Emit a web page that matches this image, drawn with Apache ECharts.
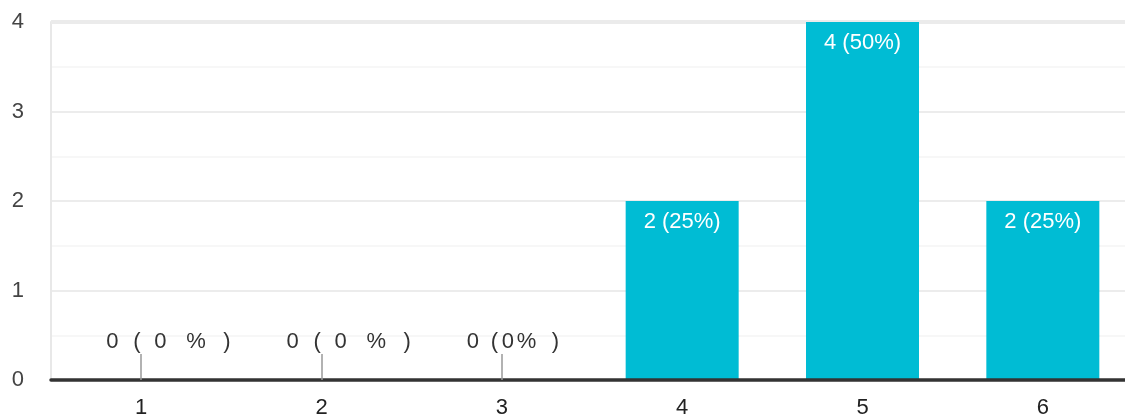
<!DOCTYPE html>
<html>
<head>
<meta charset="utf-8">
<script src="https://cdn.jsdelivr.net/npm/echarts@6/dist/echarts.min.js"></script>
<style>
html,body{margin:0;padding:0;background:#fff;}
#c{width:1125px;height:417px;}
</style>
</head>
<body>
<div id="c"></div>
<script>
const categories = ['1', '2', '3', '4', '5', '6'];
const counts = [0, 0, 0, 2, 4, 2];
const labelTexts = ['0 (0%)', '0 (0%)', '0 (0%)', '2 (25%)', '4 (50%)', '2 (25%)'];
const yTicks = [0, 1, 2, 3, 4];

// glyph box widths used to reproduce the spread-out zero labels
const spreadWide = [27, 21, 32, 37, 8];
const spreadTight = [24, 11, 15, 35, 8];
const zeroSpreads = [spreadWide, spreadWide, spreadTight];

const FONT = 'Liberation Sans, Arial, sans-serif';
const FS = 22;

const chart = echarts.init(document.getElementById('c'));

function spreadLabel(text, widths) {
  const chars = text.replace(/\s+/g, '').split('');
  const rich = {};
  let fmt = '';
  chars.forEach((ch, k) => {
    rich['g' + k] = { width: widths[k] || 10, align: 'left', fontSize: FS, fontFamily: FONT, color: '#333' };
    fmt += '{g' + k + '|' + ch + '}';
  });
  return { fmt, rich };
}

const data = counts.map((v, i) => {
  if (v === 0) {
    const s = spreadLabel(labelTexts[i], zeroSpreads[i]);
    return {
      value: v,
      label: {
        show: true,
        position: 'top',
        distance: 27,
        align: 'left',
        offset: [-35, 0],
        formatter: () => s.fmt,
        rich: s.rich
      }
    };
  }
  return {
    value: v,
    label: {
      show: true,
      position: 'insideTop',
      distance: 10,
      color: '#fff',
      fontSize: FS,
      fontFamily: FONT,
      formatter: () => labelTexts[i]
    }
  };
});

chart.setOption({
  animation: false,
  grid: { left: 51, width: 1082, top: 22, height: 358, containLabel: false, outerBoundsMode: 'none' },
  xAxis: {
    type: 'category',
    data: categories,
    axisLine: { show: true, lineStyle: { color: '#333', width: 3.5 } },
    axisTick: {
      show: true,
      inside: true,
      length: 26,
      alignWithLabel: true,
      interval: (index) => counts[index] === 0,
      lineStyle: { color: '#999', width: 1.5 }
    },
    axisLabel: { color: '#222', fontSize: FS, fontFamily: FONT, margin: 17 },
    splitLine: { show: false },
    z: 3
  },
  yAxis: {
    type: 'value',
    min: yTicks[0],
    max: yTicks[yTicks.length - 1],
    interval: 1,
    axisLine: { show: true, lineStyle: { color: '#e8e8e8', width: 2 } },
    axisTick: { show: false },
    axisLabel: { color: '#444', fontSize: FS, fontFamily: FONT, margin: 27 },
    splitLine: { show: true, lineStyle: { color: '#ececec', width: 2 } },
    minorTick: { show: false, splitNumber: 2 },
    minorSplitLine: { show: true, lineStyle: { color: '#f5f5f5', width: 1.5 } }
  },
  series: [{
    type: 'bar',
    data: data,
    barWidth: 113,
    itemStyle: { color: '#00bcd4' },
    z: 2,
    markLine: {
      silent: true,
      symbol: 'none',
      label: { show: false },
      lineStyle: { color: '#ebebeb', width: 4, type: 'solid' },
      data: [{ yAxis: yTicks[yTicks.length - 1] }],
      z: 1
    }
  }]
});
</script>
</body>
</html>
